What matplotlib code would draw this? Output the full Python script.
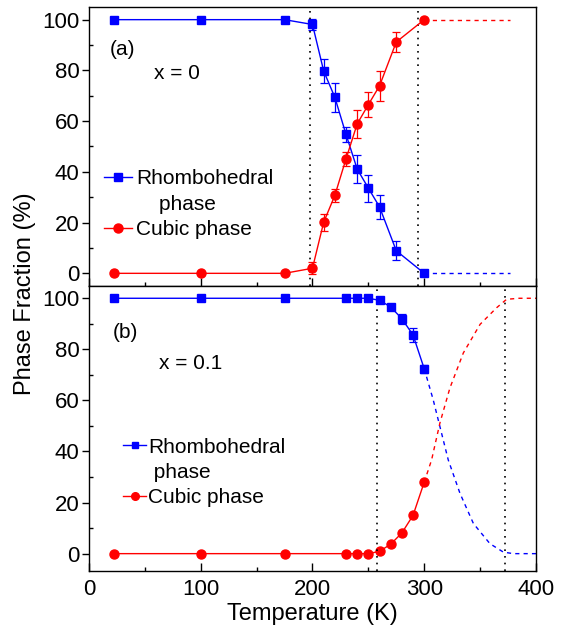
import numpy as np
import matplotlib.pyplot as plt

plt.rcParams['font.family'] = ['Liberation Sans', 'DejaVu Sans']

# panel (a): x = 0
Ta = [22, 100, 175, 200, 210, 220, 230, 240, 250, 260, 275, 300]
rh_a = [100, 100, 100, 98.1, 79.8, 69.4, 54.8, 41.1, 33.6, 26.2, 8.9, 0]
rh_a_err = [0, 0, 0, 2.0, 4.6, 5.8, 3.0, 5.4, 5.3, 4.8, 3.7, 0]
cu_a = [0, 0, 0, 2.0, 20.1, 30.7, 45.1, 58.9, 66.5, 73.9, 91.2, 100]
cu_a_err = [0, 0, 0, 2.3, 3.4, 2.5, 2.6, 5.6, 4.8, 5.8, 4.1, 0]
ext_a_T = [300, 377]
ext_a_rh = [0, 0]
ext_a_cu = [100, 100]
vlines_a = [198, 294]

# panel (b): x = 0.1
Tb = [22, 100, 175, 230, 240, 250, 260, 270, 280, 290, 300]
rh_b = [100, 100, 100, 100, 100, 100, 99.2, 96.6, 92.0, 85.6, 72.4]
rh_b_err = [0, 0, 0, 0, 0, 0, 0.8, 0.8, 2.0, 2.8, 1.5]
cu_b = [0, 0, 0, 0, 0, 0, 0.9, 3.7, 8.1, 15.0, 28.0]
ext_b_cu_T = [300, 306.6, 314, 323, 335, 350, 364.8, 373.7, 385, 400]
ext_b_cu = [28.0, 36.7, 51.1, 64.9, 78.6, 89.8, 96.3, 99.6, 100, 100]
ext_b_rh_T = [300, 308, 314, 321.5, 332, 344, 358.8, 370.8, 379.8, 400]
ext_b_rh = [72.4, 60.3, 49.8, 36.7, 23.6, 11.8, 3.9, 0.6, 0, 0]
vlines_b = [258, 372]

BLUE = '#0000ff'
RED = '#ff0000'
DOT = (0, (1, 3))

fig = plt.figure(figsize=(5.61, 6.40), dpi=100)
ax1 = fig.add_axes([0.1586, 0.5531, 0.7968, 0.4360])
ax2 = fig.add_axes([0.1586, 0.1078, 0.7968, 0.4453])

# top panel
h1 = ax1.errorbar(Ta, rh_a, yerr=rh_a_err, color=BLUE, marker='s', ms=5.5, lw=1,
                  capsize=3, elinewidth=0.9, capthick=0.9)
h2 = ax1.errorbar(Ta, cu_a, yerr=cu_a_err, color=RED, marker='o', ms=6.5, lw=1,
                  capsize=3, elinewidth=0.9, capthick=0.9)
ax1.plot(ext_a_T, ext_a_rh, color=BLUE, lw=1, ls=(0, (3, 3)))
ax1.plot(ext_a_T, ext_a_cu, color=RED, lw=1, ls=(0, (3, 3)))
for v in vlines_a:
    ax1.axvline(v, color='k', ls=DOT, lw=1.2)
ax1.text(18.8, 88.3, '(a)', fontsize=15, va='center', ha='left')
ax1.text(58, 78.9, 'x = 0', fontsize=15, va='center', ha='left')
blank = plt.Line2D([], [], ls='none')
ax1.legend([h1.lines[0], blank, h2.lines[0]], ['Rhombohedral', '    phase', 'Cubic phase'],
           loc='upper left', bbox_to_anchor=(0.01, 0.455), frameon=False, fontsize=15,
           handlelength=1.35, handletextpad=0.2, labelspacing=0.3, borderpad=0)
ax1.set_ylim(-5, 105)

# bottom panel
h3 = ax2.errorbar(Tb, rh_b, yerr=rh_b_err, color=BLUE, marker='s', ms=5.5, lw=1,
                  capsize=3, elinewidth=0.9, capthick=0.9)
h4, = ax2.plot(Tb, cu_b, color=RED, marker='o', ms=6.5, lw=1)
ax2.plot(ext_b_rh_T, ext_b_rh, color=BLUE, lw=1, ls=(0, (3, 3)))
ax2.plot(ext_b_cu_T, ext_b_cu, color=RED, lw=1, ls=(0, (3, 3)))
for v in vlines_b:
    ax2.axvline(v, color='k', ls=DOT, lw=1.2)
ax2.text(21.5, 86.7, '(b)', fontsize=15, va='center', ha='left')
ax2.text(62.6, 74.5, 'x = 0.1', fontsize=15, va='center', ha='left')
lh3 = plt.Line2D([], [], color=BLUE, marker='s', ms=5, lw=1)
lh4 = plt.Line2D([], [], color=RED, marker='o', ms=5.5, lw=1)
ax2.legend([lh3, blank, lh4], ['Rhombohedral', ' phase', 'Cubic phase'],
           loc='upper left', bbox_to_anchor=(0.053, 0.505), frameon=False, fontsize=15,
           handlelength=1.1, handletextpad=0.1, labelspacing=0.3, borderpad=0)
ax2.set_ylim(-6.8, 104.8)

for ax in (ax1, ax2):
    ax.set_xlim(0, 400)
    ax.set_xticks([0, 100, 200, 300, 400])
    ax.set_xticks(np.arange(50, 400, 100), minor=True)
    ax.set_yticks([0, 20, 40, 60, 80, 100])
    ax.set_yticks(np.arange(10, 100, 20), minor=True)
    ax.tick_params(axis='x', which='major', direction='in', length=6, width=1)
    ax.tick_params(axis='x', which='minor', direction='in', length=3, width=1)
    ax.tick_params(axis='y', which='major', direction='out', length=5, width=1,
                   labelsize=16, pad=2)
    ax.tick_params(axis='y', which='minor', direction='in', length=3, width=1)
    for s in ax.spines.values():
        s.set_linewidth(1)

ax1.tick_params(axis='x', labelbottom=False)
ax2.tick_params(axis='x', labelsize=16, pad=6)
ax2.set_xlabel('Temperature (K)', fontsize=17, labelpad=2)
fig.text(25 / 561, 1 - 294 / 640, 'Phase Fraction (%)', fontsize=17,
         rotation=90, ha='center', va='center')

fig.savefig('out.png', dpi=100)
